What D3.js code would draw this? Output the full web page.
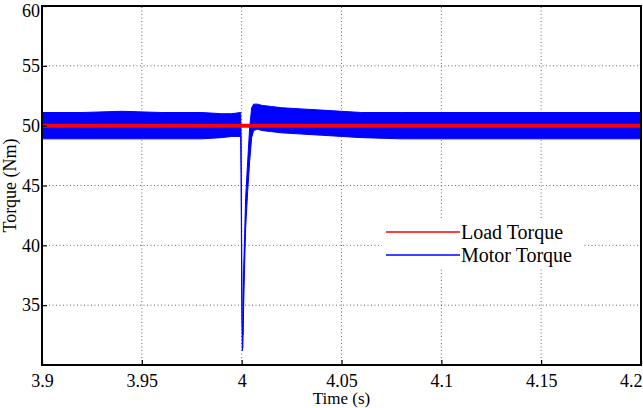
<!DOCTYPE html>
<html>
<head>
<meta charset="utf-8">
<script src="https://cdn.jsdelivr.net/npm/d3@7"></script>
<style>
  body { margin: 0; background: #fff; }
  svg { display: block; }
  svg text { font-family: "Liberation Serif", "Times New Roman", serif; fill: #000; }
</style>
</head>
<body>
<svg width="643" height="408"></svg>
<script>
// tick values
const xTicks = [3.9, 3.95, 4, 4.05, 4.1, 4.15, 4.2];
const yTicks = [35, 40, 45, 50, 55, 60];

// motor torque envelope (upper / lower edge of the ripple band)
const motorT     = [3.9, 3.92, 3.94, 3.96, 3.98, 3.99, 3.995, 3.9995, 3.9997, 4.0, 4.0003, 4.0006, 4.001, 4.0015, 4.002, 4.003, 4.004, 4.005, 4.006, 4.008, 4.01, 4.015, 4.02, 4.03, 4.04, 4.05, 4.06, 4.08, 4.1, 4.15, 4.2];
const motorUpper = [51.1, 51.1, 51.2, 51.1, 51.1, 51.0, 51.0, 51.1, 49.5, 40.0, 33.5, 32.5, 38.0, 41.0, 44.0, 47.0, 49.8, 51.5, 51.8, 51.8, 51.7, 51.6, 51.5, 51.4, 51.3, 51.2, 51.1, 51.1, 51.1, 51.1, 51.1];
const motorLower = [48.9, 48.9, 48.9, 48.9, 48.9, 49.0, 49.1, 49.1, 46.0, 36.0, 31.2, 31.5, 35.0, 38.5, 41.5, 44.5, 47.0, 49.0, 49.6, 49.7, 49.6, 49.5, 49.4, 49.3, 49.2, 49.1, 49.0, 48.9, 48.9, 48.9, 48.9];

// load torque
const loadT = [3.9, 4.2];
const loadV = [50, 50];

const legendNames = ["Load Torque", "Motor Torque"];
const legendColors = ["#ff0000", "#0000ff"];

const svg = d3.select("svg");
const margin = { left: 42, right: 2, top: 6, bottom: 43 };
const width = 643, height = 408;

const x = d3.scaleLinear().domain([3.9, 4.2]).range([margin.left, width - margin.right]);
const y = d3.scaleLinear().domain([30, 60]).range([height - margin.bottom, margin.top]);

// grid
const grid = svg.append("g").attr("stroke", "#444").attr("stroke-width", 0.8).attr("stroke-dasharray", "1,2.5");
grid.selectAll(".gx").data(xTicks.slice(1, -1)).join("line")
  .attr("x1", d => x(d)).attr("x2", d => x(d))
  .attr("y1", y(30)).attr("y2", y(60));
grid.selectAll(".gy").data(yTicks.slice(0, -1)).join("line")
  .attr("x1", x(3.9)).attr("x2", x(4.2))
  .attr("y1", d => y(d)).attr("y2", d => y(d));

// motor torque band
const band = motorT.map((t, i) => ({ t, hi: motorUpper[i], lo: motorLower[i] }));
svg.append("path")
  .datum(band)
  .attr("fill", "#0000ff")
  .attr("stroke", "#0000ff")
  .attr("stroke-width", 1)
  .attr("d", d3.area().x(d => x(d.t)).y0(d => y(d.lo)).y1(d => y(d.hi)));

// load torque
svg.append("path")
  .datum(loadT.map((t, i) => [t, loadV[i]]))
  .attr("fill", "none")
  .attr("stroke", "#ff0000")
  .attr("stroke-width", 4)
  .attr("d", d3.line().x(d => x(d[0])).y(d => y(d[1])));

// axes
const xAxis = svg.append("g").attr("transform", `translate(0,${y(30)})`)
  .call(d3.axisBottom(x).tickValues(xTicks).tickSizeInner(-5).tickSizeOuter(0).tickPadding(9).tickFormat(d3.format("")));
const yAxis = svg.append("g").attr("transform", `translate(${x(3.9)},0)`)
  .call(d3.axisLeft(y).tickValues(yTicks).tickSizeInner(-5).tickSizeOuter(0).tickPadding(2));
[xAxis, yAxis].forEach(a => {
  a.attr("font-family", null);
  a.select(".domain").remove();
  a.selectAll(".tick line").attr("stroke", "#000").attr("stroke-width", 1.2);
  a.selectAll("text").attr("font-size", 18);
});
xAxis.selectAll("text").attr("dy", "0.71em");
// last x label sits inside the right edge, top y label inside the top edge
xAxis.selectAll(".tick").filter(d => d === 4.2).select("text").attr("text-anchor", "end").attr("x", 1);
yAxis.selectAll(".tick").filter(d => d === 60).select("text").attr("dy", "0.6em");

// box
svg.append("rect")
  .attr("x", x(3.9)).attr("y", y(60))
  .attr("width", x(4.2) - x(3.9)).attr("height", y(30) - y(60))
  .attr("fill", "none").attr("stroke", "#000").attr("stroke-width", 2);

// axis labels
svg.append("text").attr("x", (x(3.9) + x(4.2)) / 2).attr("y", 404)
  .attr("text-anchor", "middle").attr("font-size", 17).text("Time (s)");
svg.append("text").attr("transform", `translate(16,${(y(30) + y(60)) / 2}) rotate(-90)`)
  .attr("text-anchor", "middle").attr("font-size", 18).text("Torque (Nm)");

// legend
const lg = svg.append("g");
lg.append("rect").attr("x", 382).attr("y", 218).attr("width", 200).attr("height", 50).attr("fill", "#fff");
const items = lg.selectAll(".item").data(legendNames).join("g")
  .attr("transform", (d, i) => `translate(386,${232 + i * 23})`);
items.append("line").attr("x1", 0).attr("x2", 74).attr("y1", 0).attr("y2", 0)
  .attr("stroke", (d, i) => legendColors[i]).attr("stroke-width", 1.6);
items.append("text").attr("x", 75).attr("y", 0).attr("dy", "0.35em")
  .attr("font-size", 20).text(d => d);
</script>
</body>
</html>
